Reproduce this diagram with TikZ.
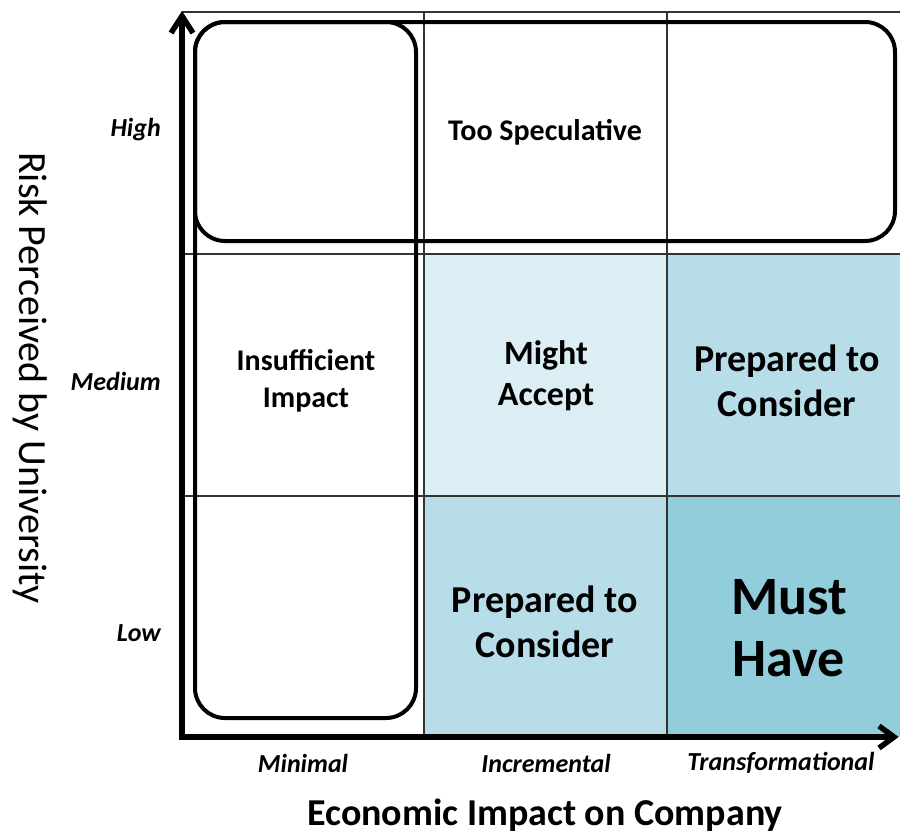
\documentclass[tikz,border=0pt]{standalone}
\usepackage{fontspec}
\setmainfont{Carlito}
\usetikzlibrary{positioning}
\definecolor{paleaqua}{HTML}{DAEEF3}
\definecolor{lightaqua}{HTML}{B7DDE8}
\definecolor{midaqua}{HTML}{92CDDC}
\newcommand{\fsz}[2]{\fontsize{#1}{#2}\selectfont}
\begin{document}
\begin{tikzpicture}[x=1pt, y=-1pt,
  cell/.style={align=center, inner sep=0pt},
  tick/.style={font=\bfseries\itshape\fsz{26}{30}, inner sep=0pt},
  region/.style={line width=4pt, rounded corners=30pt},
  gridline/.style={line width=1.5pt, black!80},
  axis/.style={line width=5.5pt}]
  \useasboundingbox (0,0) rectangle (900,835);
  \fill[paleaqua] (424,254) rectangle (667,496);
  \fill[lightaqua] (667,254) rectangle (909,496);
  \fill[lightaqua] (424,496) rectangle (667,737);
  \fill[midaqua] (667,496) rectangle (909,737);
  \foreach \y in {12,254,496} \draw[gridline] (182,\y) -- (909,\y);
  \foreach \x in {424,667} \draw[gridline] (\x,12) -- (\x,737);
  \draw[region] (195,22) rectangle (895,241);
  \draw[region] (195,22) rectangle (416,718);
  \coordinate (origin) at (182,737);
  \coordinate (ytip) at (182,16);
  \coordinate (xtip) at (894,737);
  \draw[axis] (ytip) -- (origin) -- (xtip);
  \draw[axis] (ytip) ++(-11,17) -- (ytip) -- ++(11,17);
  \draw[axis] (xtip) ++(-15,-11) -- (xtip) -- ++(-15,11);
  \node[cell, font=\bfseries\fsz{30}{34}] (speculative) at (545,132) {Too Speculative};
  \node[cell, font=\bfseries\fsz{30}{37}] (insufficient) at (306,381) {Insufficient\\Impact};
  \node[cell, font=\bfseries\fsz{34}{41}] (might) at (546,376) {Might\\Accept};
  \node[cell, font=\bfseries\fsz{38}{45}] (prepmid) at (787,381) {Prepared to\\Consider};
  \node[cell, font=\bfseries\fsz{38}{45}] (preplow) at (545,622) {Prepared to\\Consider};
  \node[cell, font=\bfseries\fsz{54}{62}] (must) at (789,628) {Must\\Have};
  \foreach \lab/\y/\n in {High/130/high, Medium/381/medium, Low/633/low}
    \node[tick, anchor=east] (\n) at (161,\y) {\lab};
  \foreach \lab/\x/\n in {Minimal/303/minimal, Incremental/546/incremental, Transformational/781/transformational}
    \node[tick] (\n) at (\x,763) {\lab};
  \node[font=\bfseries\fsz{38}{42}] (xtitle) at (545,815) {Economic Impact on Company};
  \node[font=\fsz{40}{44}, rotate=-90] (ytitle) at (30,378) {Risk Perceived by University};
\end{tikzpicture}
\end{document}
